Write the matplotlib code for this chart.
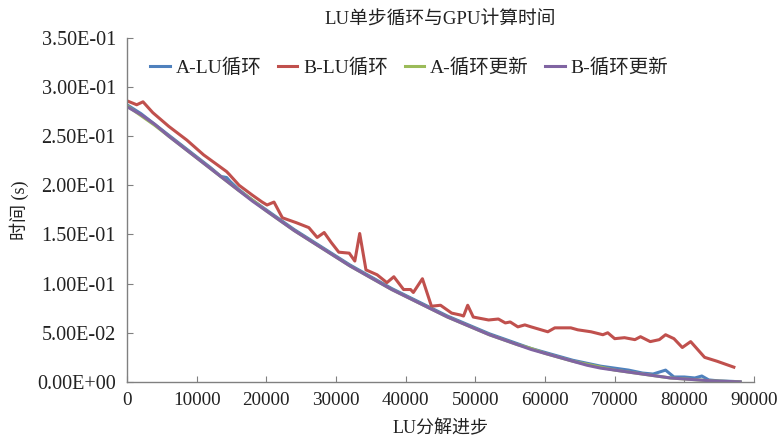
import matplotlib
matplotlib.use('Agg')
import matplotlib.pyplot as plt
from matplotlib.ticker import FuncFormatter

FONT = ['Liberation Serif', 'Noto Sans CJK SC']
plt.rcParams['font.family'] = FONT

# LU step index (x) and per-step timings (s)
steps_smooth = [0, 2000, 4000, 6000, 8000, 10000, 12000, 14000, 16000, 18000,
                20000, 22000, 24000, 26000, 28000, 30000, 32000, 34000, 36000,
                38000, 40000, 42000, 44000, 46000, 48000, 50000, 52000, 54000,
                56000, 58000, 60000, 62000, 64000, 66000, 68000, 70000, 72000,
                74000, 76000, 78000, 80000, 82000, 84000, 86000, 88000]
b_update = [0.280, 0.272, 0.262, 0.250, 0.239, 0.228, 0.217, 0.206, 0.195, 0.184,
            0.174, 0.164, 0.154, 0.145, 0.136, 0.127, 0.118, 0.110, 0.102,
            0.094, 0.087, 0.080, 0.073, 0.066, 0.060, 0.054, 0.048, 0.043,
            0.038, 0.033, 0.029, 0.025, 0.021, 0.017, 0.014, 0.012, 0.010,
            0.008, 0.006, 0.004, 0.003, 0.002, 0.001, 0.0005, 0.0]
a_update = [0.281, 0.271, 0.261, 0.250, 0.239, 0.228, 0.217, 0.206, 0.195, 0.185,
            0.174, 0.164, 0.154, 0.145, 0.136, 0.127, 0.118, 0.110, 0.102,
            0.094, 0.087, 0.080, 0.073, 0.066, 0.060, 0.054, 0.048, 0.043,
            0.038, 0.034, 0.029, 0.025, 0.021, 0.018, 0.015, 0.012, 0.010,
            0.008, 0.006, 0.004, 0.003, 0.002, 0.001, 0.0005, 0.0]

steps_a_lu = [0, 2000, 4000, 6000, 8000, 10000, 12000, 13500, 14300, 14800, 16000,
              18000, 20000, 22000, 24000, 26000, 28000, 30000, 32000, 34000,
              36000, 38000, 40000, 42000, 44000, 46000, 48000, 50000, 52000,
              54000, 56000, 58000, 60000, 62000, 64000, 66000, 68000, 70000,
              72000, 74000, 75500, 77300, 78500, 80000, 81500, 82500, 83500,
              85000, 87000, 88000]
a_lu = [0.282, 0.273, 0.262, 0.251, 0.240, 0.229, 0.218, 0.209, 0.208, 0.204, 0.196,
        0.185, 0.175, 0.165, 0.155, 0.146, 0.137, 0.128, 0.119, 0.111,
        0.103, 0.095, 0.088, 0.081, 0.074, 0.067, 0.061, 0.055, 0.049,
        0.044, 0.039, 0.034, 0.030, 0.026, 0.022, 0.019, 0.016, 0.014,
        0.012, 0.009, 0.008, 0.012, 0.005, 0.005, 0.004, 0.006, 0.002,
        0.001, 0.0005, 0.0]

steps_b_lu = [0, 1400, 2300, 3700, 6000, 8600, 11000, 14300, 14700, 16100, 18000,
              19400, 20100, 21100, 22300, 24300, 26100, 27300, 28300, 29300,
              30400, 31900, 32700, 33400, 34300, 35900, 37300, 38300, 39700,
              40700, 41100, 42400, 43700, 45000, 46600, 47900, 48300, 48900,
              49700, 51900, 53300, 54300, 55000, 56100, 57100, 58000, 60400,
              61400, 63700, 64700, 66600, 68300, 69000, 70000, 71400, 72900,
              73700, 75100, 76400, 77300, 78500, 79700, 80900, 82900, 84700,
              87100]
b_lu = [0.286, 0.282, 0.285, 0.274, 0.260, 0.246, 0.231, 0.214, 0.211, 0.200, 0.190,
        0.183, 0.180, 0.183, 0.167, 0.162, 0.157, 0.147, 0.152, 0.142,
        0.132, 0.131, 0.123, 0.151, 0.114, 0.109, 0.101, 0.107, 0.094,
        0.094, 0.091, 0.105, 0.077, 0.078, 0.070, 0.068, 0.067, 0.078,
        0.066, 0.063, 0.064, 0.060, 0.061, 0.056, 0.058, 0.056, 0.051,
        0.055, 0.055, 0.053, 0.051, 0.048, 0.050, 0.044, 0.045, 0.043,
        0.046, 0.041, 0.043, 0.048, 0.044, 0.035, 0.041, 0.025, 0.021,
        0.015]

fig = plt.figure(figsize=(7.79, 4.41), dpi=100)
ax = fig.add_axes([0.163, 0.134, 0.805, 0.78])

lw = 2.2
ax.plot(steps_a_lu, a_lu, color='#4F81BD', lw=lw, label='A-LU循环')
ax.plot(steps_b_lu, b_lu, color='#C0504D', lw=lw, label='B-LU循环')
ax.plot(steps_smooth, a_update, color='#9BBB59', lw=lw, label='A-循环更新')
ax.plot(steps_smooth, b_update, color='#8064A2', lw=lw, label='B-循环更新')

ax.set_xlim(0, 90000)
ax.set_ylim(0, 0.35)
ax.set_xticks(range(0, 90001, 10000))
ax.set_yticks([i * 0.05 for i in range(8)])
ax.yaxis.set_major_formatter(FuncFormatter(lambda v, p: f'{v:.2E}'))

for s in ['top', 'right']:
    ax.spines[s].set_visible(False)
for s in ['left', 'bottom']:
    ax.spines[s].set_color('#808080')
    ax.spines[s].set_linewidth(1.0)
ax.tick_params(direction='in', length=4, color='#808080', labelcolor='#222222')
ax.tick_params(axis='x', pad=7, labelsize=13.8)
ax.tick_params(axis='y', pad=8, labelsize=14.5)

ax.set_title('LU单步循环与GPU计算时间', fontsize=13.5, family=FONT, color='#222222', pad=10)
ax.set_xlabel('LU分解进步', fontsize=13, family=FONT, color='#222222', labelpad=8)
ax.set_ylabel('时间 (s)', fontsize=13, family=FONT, color='#222222', labelpad=6)

leg = ax.legend(loc='center left', bbox_to_anchor=(0.025, 0.913), ncol=4,
                frameon=False, fontsize=14, handlelength=1.0, handletextpad=0.3,
                columnspacing=0.85, borderaxespad=0)
for t in leg.get_texts():
    t.set_color('#222222')

fig.savefig('out.png', dpi=100, facecolor='white')
